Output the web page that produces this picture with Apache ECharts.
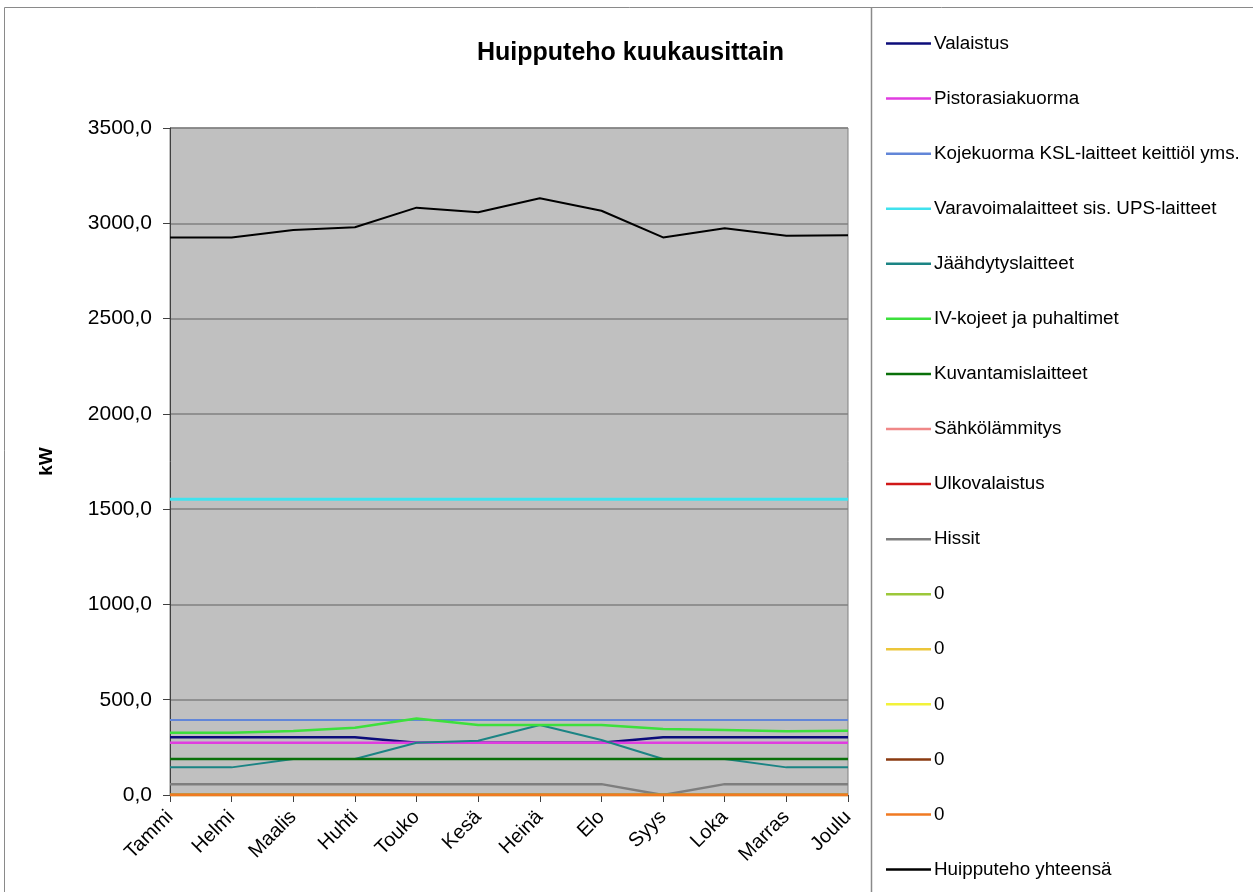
<!DOCTYPE html>
<html>
<head>
<meta charset="utf-8">
<script src="https://cdn.jsdelivr.net/npm/echarts@6/dist/echarts.min.js"></script>
<style>html,body{margin:0;padding:0;background:#fff;}#c{width:1253px;height:892px;}</style>
</head>
<body>
<div id="c"></div>
<script>
var months = ['Tammi','Helmi','Maalis','Huhti','Touko','Kesä','Heinä','Elo','Syys','Loka','Marras','Joulu'];
var yTicks = [0, 500, 1000, 1500, 2000, 2500, 3000, 3500];

var seriesNames = ['Valaistus','Pistorasiakuorma','Kojekuorma KSL-laitteet keittiöl yms.','Varavoimalaitteet sis. UPS-laitteet','Jäähdytyslaitteet','IV-kojeet ja puhaltimet','Kuvantamislaitteet','Sähkölämmitys','Ulkovalaistus','Hissit','0','0','0','0','0','Huipputeho yhteensä'];

var valaistus     = [303,303,303,303,274,274,274,274,303,303,303,303];
var pistorasia    = [274,274,274,274,274,274,274,274,274,274,274,274];
var kojekuorma    = [394,394,394,394,394,394,394,394,394,394,394,394];
var varavoima     = [1552,1552,1552,1552,1552,1552,1552,1552,1552,1552,1552,1552];
var jaahdytys     = [145,145,189,189,274,285,367,289,189,189,145,145];
var ivKojeet      = [327,327,336,353,402,367,367,367,346,341,334,337];
var kuvantamis    = [189,189,189,189,189,189,189,189,189,189,189,189];
var sahkolammitys = [0,0,0,0,0,0,0,0,0,0,0,0];
var ulkovalaistus = [0,0,0,0,0,0,0,0,0,0,0,0];
var hissit        = [57,57,57,57,57,57,57,57,0,57,57,57];
var zero1         = [0,0,0,0,0,0,0,0,0,0,0,0];
var zero2         = [0,0,0,0,0,0,0,0,0,0,0,0];
var zero3         = [0,0,0,0,0,0,0,0,0,0,0,0];
var zero4         = [0,0,0,0,0,0,0,0,0,0,0,0];
var zero5         = [0,0,0,0,0,0,0,0,0,0,0,0];
var yhteensa      = [2926,2926,2965,2979,3082,3058,3131,3066,2926,2974,2935,2937];

var seriesData = [valaistus,pistorasia,kojekuorma,varavoima,jaahdytys,ivKojeet,kuvantamis,sahkolammitys,ulkovalaistus,hissit,zero1,zero2,zero3,zero4,zero5,yhteensa];
var colors = ['#0C0C7A','#E03CE0','#6286D8','#40E2EE','#1B8484','#3CE03C','#0A700A','#F08888','#D01818','#7E7E7E','#9CC83A','#ECC63A','#F2F23A','#8A3A10','#F07A22','#000000'];
var widths = [2.5,2.5,2,3,2,2.5,2.5,2.5,2.5,2.5,2.5,2.5,2.5,2.5,2.5,2];

var fmt = function(v){ return v.toFixed(1).replace('.', ','); };

var chart = echarts.init(document.getElementById('c'), null, {renderer:'canvas'});
var series = seriesData.map(function(d, i){
  return {
    name: seriesNames[i] + (seriesNames[i] === '0' ? '\u200B'.repeat(i) : ''),
    type: 'line',
    data: d,
    symbol: 'none',
    smooth: false,
    animation: false,
    lineStyle: {color: colors[i], width: widths[i]},
    itemStyle: {color: colors[i]}
  };
});

chart.setOption({
  backgroundColor: '#ffffff',
  animation: false,
  title: {
    text: 'Huipputeho kuukausittain',
    left: 472, top: 36,
    textStyle: {fontFamily: 'Liberation Sans, Arial, sans-serif', fontSize: 25, fontWeight: 'bold', color: '#000'}
  },
  graphic: [
    {type:'rect', shape:{x:4.5, y:7.5, width:1300, height:1000}, style:{fill:'none', stroke:'#8a8a8a', lineWidth:1}, z:-10},
    {type:'line', shape:{x1:871.5, y1:8, x2:871.5, y2:892}, style:{stroke:'#8a8a8a', lineWidth:1.5}, z:-10}
  ],
  legend: {
    orient: 'vertical',
    left: 881, top: 29,
    itemWidth: 45, itemHeight: 2.5,
    itemGap: 36.07,
    icon: 'rect',
    formatter: function(n){ return n.replace(/\u200B/g,''); },
    textStyle: {fontFamily: 'Liberation Sans, Arial, sans-serif', fontSize: 18.8, color: '#000', lineHeight: 19, padding: [0,0,0,-2]},
    data: series.map(function(s){ return s.name; })
  },
  grid: {
    left: 170, right: 405, top: 128, bottom: 97,
    show: true, backgroundColor: '#C0C0C0', borderColor: '#808080', borderWidth: 1
  },
  xAxis: {
    type: 'category',
    data: months,
    boundaryGap: false,
    axisLine: {show: true, lineStyle: {color: '#404040', width: 1}},
    axisTick: {show: true, alignWithLabel: true, length: 7, lineStyle: {color: '#404040'}},
    axisLabel: {rotate: 45, margin: 19, interval: 0, fontFamily: 'Liberation Sans, Arial, sans-serif', fontSize: 20, color: '#000'},
    splitLine: {show: false}
  },
  yAxis: {
    type: 'value',
    min: yTicks[0], max: yTicks[yTicks.length-1], interval: 500,
    name: 'kW',
    nameLocation: 'middle',
    nameRotate: 90,
    nameGap: 114,
    nameTextStyle: {fontFamily: 'Liberation Sans, Arial, sans-serif', fontSize: 19, fontWeight: 'bold', color: '#000'},
    axisLine: {show: true, lineStyle: {color: '#404040', width: 1}},
    axisTick: {show: true, length: 7, lineStyle: {color: '#404040'}},
    axisLabel: {margin: 18, formatter: fmt, fontFamily: 'Liberation Sans, Arial, sans-serif', fontSize: 21, color: '#000'},
    splitLine: {show: true, lineStyle: {color: '#808080', width: 1.5}}
  },
  series: series
});
</script>
</body>
</html>
